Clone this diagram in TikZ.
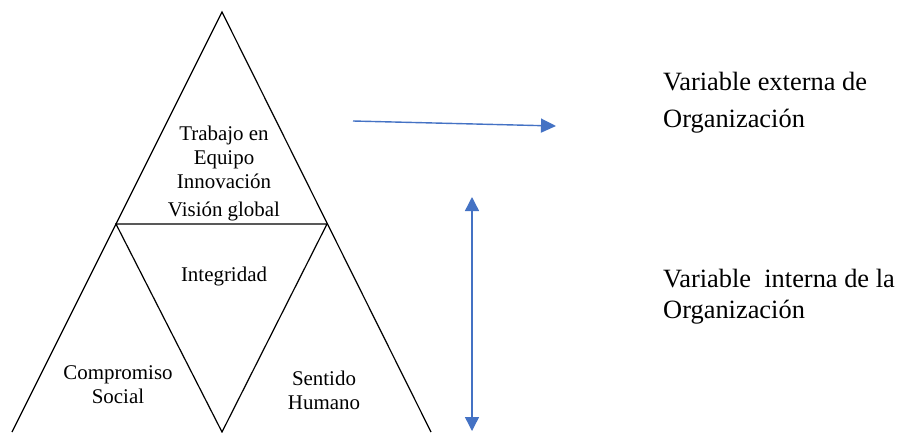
\documentclass[tikz,border=0pt]{standalone}
\usepackage{fontspec}
\setmainfont{Liberation Serif}
\newfontfamily\labelfont{Liberation Serif}
\usetikzlibrary{arrows.meta}
\begin{document}
\begin{tikzpicture}[
  x=1bp, y=-1bp,
  side/.style={draw=black, line width=1.2bp},
  lbl/.style={align=center, font=\labelfont\fontsize{21}{24}\selectfont, inner sep=0pt},
  var/.style={align=left, anchor=west, inner sep=0pt},
  arr/.style={draw={rgb,255:red,68;green,114;blue,196}, line width=1.4bp,
    -{Triangle[length=15bp, width=14bp]}},
  darr/.style={draw={rgb,255:red,68;green,114;blue,196}, line width=1.4bp,
    {Triangle[length=14bp, width=14bp]}-{Triangle[length=14bp, width=14bp]}}
]
\useasboundingbox (0,0) rectangle (904,432);
\clip (0,0) rectangle (904,432);

% pyramid
\coordinate (top) at (222,12);
\coordinate (ml) at (116,224);
\coordinate (mr) at (327,224);
\coordinate (bl) at (12,432);
\coordinate (bm) at (222,432);
\coordinate (br) at (431,432);
\draw[side] (bl) -- (top) -- (br);
\draw[side] (ml) -- (mr) -- (bm) -- cycle;

\node[lbl] (trabajo) at (224,157) {Trabajo en\\Equipo\\Innovación};
\node[lbl] (vision) at (224,211) {Visión global};
\node[lbl] (integ) at (224,276) {Integridad};
\node[lbl] (compr) at (118,385) {Compromiso\\Social};
\node[lbl] (sentido) at (324,390) {Sentido\\Humano};

% variables
\node[var, font=\labelfont\fontsize{26.5}{37}\selectfont] (ext) at (663,103) {Variable externa de\\Organización};
\node[var, font=\labelfont\fontsize{26.5}{31}\selectfont] (int) at (663,297) {Variable\ \ interna de la\\Organización};

\coordinate (a1) at (353,121);
\coordinate (a2) at (556,126);
\coordinate (v1) at (472,197);
\coordinate (v2) at (472,431);
\draw[arr] (a1) -- (a2);
\draw[darr] (v1) -- (v2);
\end{tikzpicture}
\end{document}
